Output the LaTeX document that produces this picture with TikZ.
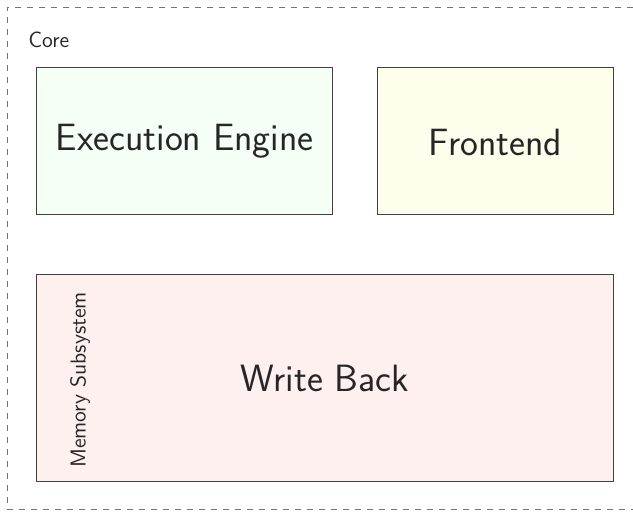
\documentclass[tikz,border=0pt]{standalone}
\renewcommand{\familydefault}{\sfdefault}
\begin{document}
\begin{tikzpicture}[x=0.5pt,y=-0.5pt,
  blockbox/.style={draw=black!75, line width=0.6pt, inner sep=0pt, anchor=north west},
  bigtext/.style={font=\fontsize{19}{23}\selectfont, text=black!85},
  smalltext/.style={font=\fontsize{11}{13}\selectfont, text=black!85}]
\useasboundingbox (0,0) rectangle (633,511);
\draw[dashed, draw=black!55, line width=0.5pt] (645,7) -- (7,7) -- (7,509) -- (645,509);
\node[anchor=west, smalltext, inner sep=0pt] (core) at (28,40) {Core};
% boxes
\node[blockbox, fill=green!4, minimum width=148pt, minimum height=73.5pt] (exec) at (36,67) {};
\node[bigtext] (execlbl) at (exec.center) {Execution Engine};
\node[blockbox, fill=yellow!7, minimum width=118pt, minimum height=73.5pt] (front) at (377,67) {};
\node[bigtext] (frontlbl) at ([yshift=-0.5pt]front.center) {Frontend};
\node[blockbox, fill=red!6, minimum width=288.5pt, minimum height=103.5pt] (wb) at (36,274) {};
\node[bigtext] (wblbl) at (325,378) {Write Back};
\node[rotate=90, font=\fontsize{10.8}{13}\selectfont, text=black!85] (mem) at (80,380) {Memory Subsystem};
\end{tikzpicture}
\end{document}
